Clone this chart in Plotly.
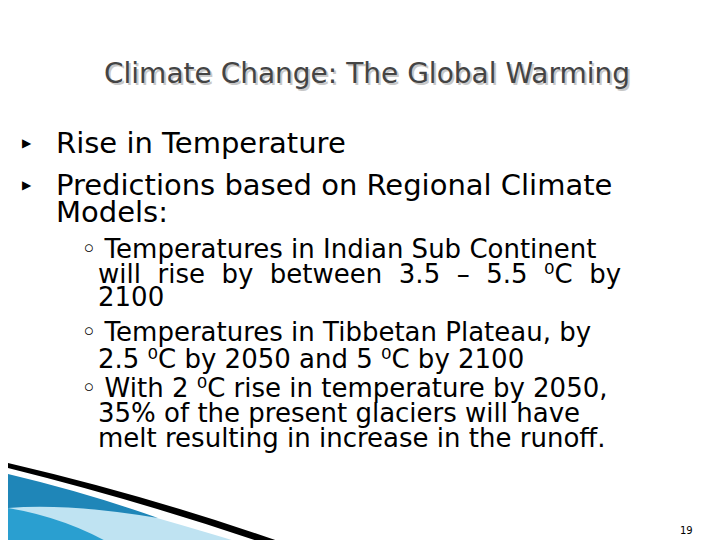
import plotly.graph_objects as go

title = "Climate Change: The Global Warming"
main_points = ["Rise in Temperature", "Predictions based on Regional Climate", "Models:"]
main_y = [135, 177, 204]
main_bullet = [True, True, False]
sub_lines = [
    "◦ Temperatures in Indian Sub Continent",
    "will  rise  by  between  3.5  –  5.5  ⁰C  by",
    "2100",
    "◦ Temperatures in Tibbetan Plateau, by",
    "2.5 ⁰C by 2050 and 5 ⁰C by 2100",
    "◦ With 2 ⁰C rise in temperature by 2050,",
    "35% of the present glaciers will have",
    "melt resulting in increase in the runoff.",
]
sub_y = [241, 266, 289, 324, 351, 380, 405, 430]
sub_first = [True, False, False, True, False, True, False, False]
page_no = "19"

fig = go.Figure()
fig.add_trace(go.Scatter(x=[0], y=[0], mode="markers", marker=dict(opacity=0), showlegend=False, hoverinfo="skip"))

font = "DejaVu Sans"
# title with faint shadow
fig.add_annotation(x=359, y=65, text=title, showarrow=False, font=dict(family=font, size=28, color="#c8c8c8"), xanchor="center", yanchor="middle", xshift=2, yshift=-2)
fig.add_annotation(x=359, y=65, text=title, showarrow=False, font=dict(family=font, size=28, color="#444444"), xanchor="center", yanchor="middle")

for txt, y, b in zip(main_points, main_y, main_bullet):
    fig.add_annotation(x=46, y=y, text=txt, showarrow=False, font=dict(family=font, size=29, color="black"), xanchor="left", yanchor="middle")
    if b:
        fig.add_annotation(x=12, y=y, text="▶", showarrow=False, font=dict(family=font, size=12, color="black"), xanchor="left", yanchor="middle")

for txt, y, first in zip(sub_lines, sub_y, sub_first):
    fig.add_annotation(x=71 if first else 88, y=y, text=txt, showarrow=False, font=dict(family=font, size=26, color="black"), xanchor="left", yanchor="middle")

fig.add_annotation(x=678, y=522, text=page_no, showarrow=False, font=dict(family=font, size=10, color="black"))

# bottom-left swoosh
fig.add_shape(type="path", path="M 0 470 Q 120 500 250 540 L 0 540 Z", fillcolor="#bfe3f2", line_width=0, layer="below")
fig.add_shape(type="path", path="M 0 466 Q 80 485 150 510 Q 60 495 0 500 Z", fillcolor="#1f86b8", line_width=0, layer="below")
fig.add_shape(type="path", path="M 0 500 Q 60 510 110 540 L 0 540 Z", fillcolor="#2a9fd0", line_width=0, layer="below")
fig.add_shape(type="path", path="M 0 455 Q 150 490 290 540 L 270 540 Q 140 495 0 460 Z", fillcolor="black", line_width=0)

fig.update_xaxes(range=[0, 720], visible=False, fixedrange=True)
fig.update_yaxes(range=[540, 0], visible=False, fixedrange=True)
fig.update_layout(width=720, height=540, margin=dict(l=0, r=0, t=0, b=0),
                  plot_bgcolor="white", paper_bgcolor="white")
fig.write_html("out.html")
